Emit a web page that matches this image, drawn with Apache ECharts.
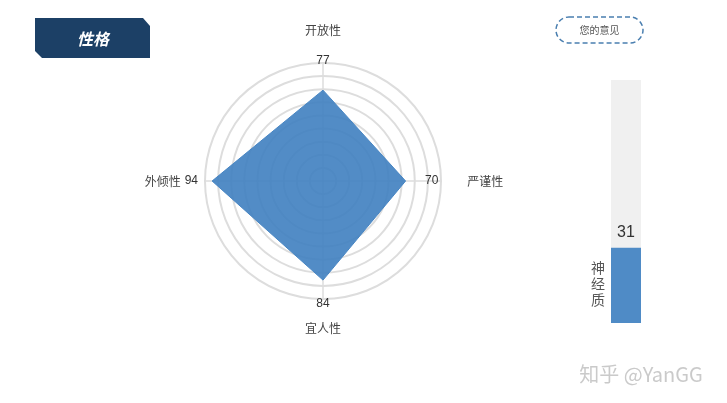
<!DOCTYPE html>
<html>
<head>
<meta charset="utf-8">
<script src="https://cdn.jsdelivr.net/npm/echarts@6/dist/echarts.min.js"></script>
<style>
html,body{margin:0;padding:0;background:#fff;}
#c{width:727px;height:403px;}
</style>
</head>
<body>
<div id="c"></div>
<script>
// ---- data ----
var radarNames = ['开放性', '外倾性', '宜人性', '严谨性'];
var radarValues = [77, 94, 84, 70];
var radarMax = 100;
var barCategories = ['神经质'];
var barValues = [31];
var barMax = 100;
var titleText = '性格';
var buttonText = '您的意见';
var watermarkText = '知乎 @YanGG';

// ---- chart ----
var chart = echarts.init(document.getElementById('c'));
var CJK = '"Noto Sans CJK SC", "Noto Sans", sans-serif';
var NUM = '"Liberation Sans", Arial, sans-serif';
var blue = '#4f8bc6';

var posTags = ['t', 'l', 'b', 'r'];
function axisNameFmt(name) {
  var i = radarNames.indexOf(name);
  var v = radarValues[i];
  var p = posTags[i];
  if (p === 't') return '{tn|' + name + '}\n{tv|' + v + '}';
  if (p === 'b') return '{bv|' + v + '}\n{bn|' + name + '}';
  if (p === 'l') return '{ln|' + name + '}{lv|' + v + '}';
  return '{rv|' + v + '}{rn|' + name + '}';
}

var nameStyle = {color: '#444', fontSize: 12, fontFamily: CJK};
var valStyle = {color: '#333', fontSize: 12, fontFamily: NUM};

chart.setOption({
  animation: false,
  backgroundColor: '#fff',
  radar: {
    center: [323, 181],
    radius: 118,
    startAngle: 90,
    shape: 'circle',
    splitNumber: 9,
    nameGap: -16,
    indicator: radarNames.map(function (n) { return {name: n, max: radarMax, min: 0}; }),
    axisName: {
      formatter: axisNameFmt,
      rich: {
        tn: Object.assign({lineHeight: 26}, nameStyle),
        tv: Object.assign({lineHeight: 36}, valStyle),
        bv: Object.assign({lineHeight: 42}, valStyle),
        bn: Object.assign({lineHeight: 6}, nameStyle),
        ln: Object.assign({}, nameStyle),
        lv: Object.assign({padding: [0, 23, 0, 4]}, valStyle),
        rv: Object.assign({}, valStyle),
        rn: Object.assign({padding: [0, 0, 0, 29]}, nameStyle)
      }
    },
    splitLine: {lineStyle: {color: '#dddddd', width: 2}},
    splitArea: {show: false},
    axisLine: {lineStyle: {color: '#dddddd', width: 1.5}},
    axisTick: {show: false},
    axisLabel: {show: false}
  },
  grid: {left: 611, top: 80, width: 30, height: 243},
  xAxis: {type: 'category', data: barCategories, show: false},
  yAxis: {type: 'value', min: 0, max: barMax, show: false},
  series: [
    {
      type: 'radar',
      symbol: 'none',
      lineStyle: {width: 1, color: blue},
      areaStyle: {color: '#3f7fc0', opacity: 0.9},
      itemStyle: {color: blue},
      data: [{value: radarValues}]
    },
    {
      type: 'bar',
      data: barValues,
      barWidth: 30,
      itemStyle: {color: blue},
      showBackground: true,
      backgroundStyle: {color: '#f0f0f0'},
      label: {show: true, position: 'top', distance: 7, color: '#333', fontSize: 16, fontFamily: NUM}
    }
  ],
  graphic: [
    {
      type: 'polygon',
      shape: {points: [[35, 18], [143, 18], [150, 26], [150, 58], [42, 58], [35, 51]]},
      style: {fill: '#1c4066'}
    },
    {
      type: 'text',
      x: 93, y: 39,
      style: {text: titleText, fill: '#fff', font: 'italic bold 16px ' + CJK, textAlign: 'center', textVerticalAlign: 'middle'}
    },
    {
      type: 'rect',
      shape: {x: 556, y: 17, width: 87, height: 26, r: 13},
      style: {fill: '#fff', stroke: '#4a7fb0', lineWidth: 1.5, lineDash: [5, 3]}
    },
    {
      type: 'text',
      x: 599.5, y: 30,
      style: {text: buttonText, fill: '#555', font: '10px ' + CJK, textAlign: 'center', textVerticalAlign: 'middle'}
    },
    {
      type: 'text',
      x: 598, y: 284,
      style: {text: barCategories[0].split('').join('\n'), fill: '#555', font: '14px ' + CJK, lineHeight: 16, textAlign: 'center', textVerticalAlign: 'middle'}
    },
    {
      type: 'text',
      x: 641, y: 374,
      style: {text: watermarkText, fill: '#cacaca', font: '20px ' + CJK, textAlign: 'center', textVerticalAlign: 'middle'}
    }
  ]
});
</script>
</body>
</html>
